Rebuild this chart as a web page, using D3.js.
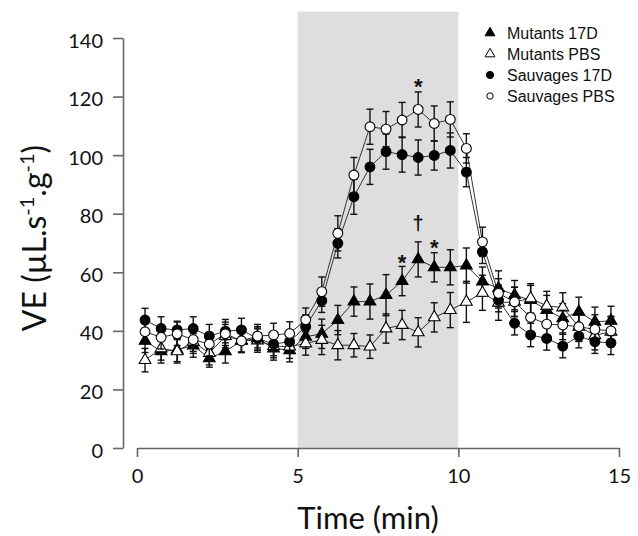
<!DOCTYPE html>
<html>
<head>
<meta charset="utf-8">
<script src="https://cdn.jsdelivr.net/npm/d3@7"></script>
<style>
  body { margin: 0; background: #fff; }
  svg { display: block; }
</style>
</head>
<body>
<svg id="theSvg"></svg>
<script>
// sampling times (min)
const times = [0.25, 0.75, 1.25, 1.75, 2.25, 2.75, 3.25, 3.75, 4.25, 4.75,
  5.25, 5.75, 6.25, 6.75, 7.25, 7.75, 8.25, 8.75, 9.25, 9.75,
  10.25, 10.75, 11.25, 11.75, 12.25, 12.75, 13.25, 13.75, 14.25, 14.75];

// mean VE per group
const mutants17D = [36.6, 33, 33.5, 35, 30.6, 33, 36.6, 37.4, 34, 33.4,
  38, 39, 43.7, 50, 50, 52.2, 57, 64.4, 61.7, 61.7,
  62.3, 56.8, 54.5, 52.2, 50.5, 47.1, 44.3, 46.5, 43.1, 43.4];
const mutantsPBS = [30, 34, 33, 36.3, 32.4, 38.2, 36.8, 36.7, 34.8, 34.6,
  35.7, 36.9, 35.1, 35.1, 34.6, 40.8, 42, 39.5, 44.6, 47.1,
  49.9, 53, 49.6, 49.9, 51.1, 48.5, 48, 41.4, 38.5, 39.7];
const sauvages17D = [43.7, 40.8, 40.3, 40.8, 38.2, 39.9, 40.3, 37.4, 35.5, 36.3,
  41.5, 50.3, 69.9, 85.8, 96, 101.2, 100.2, 99.2, 99.9, 101.6,
  94.2, 67, 50.5, 42.6, 38.6, 37.4, 34.8, 38.2, 36.3, 35.9];
const sauvagesPBS = [39.7, 37.8, 39, 37, 35.5, 39, 36.6, 38.2, 38.6, 39.1,
  43.8, 53.4, 73.3, 93.2, 109.7, 108.9, 112, 115.6, 110.8, 112.2,
  102.3, 70.4, 52.8, 49.9, 44.6, 42.3, 42, 41.4, 40.5, 40];

// standard errors
const seMutants17D = [4, 4, 4, 4, 3, 4, 4, 4, 4, 4, 4, 5, 5, 5, 6, 7, 5, 6, 5, 6, 6, 5, 6, 5, 5, 5, 5, 5, 5, 5];
const seMutantsPBS = [4, 4, 4, 4, 4, 4, 4, 4, 4, 4, 4, 5, 5, 4, 4, 5, 5, 5, 5, 6, 7, 6, 6, 5, 5, 5, 5, 5, 5, 5];
const seSauvages17D = [4, 4, 3, 4, 4, 4, 4, 4, 4, 4, 4, 4, 5, 6, 6, 6, 6, 6, 5, 6, 5, 4, 4, 4, 4, 4, 4, 4, 4, 4];
const seSauvagesPBS = [4, 4, 4, 4, 4, 4, 4, 4, 4, 4, 4, 5, 6, 6, 6, 6, 6, 6, 6, 6, 5, 5, 5, 5, 5, 5, 5, 5, 5, 5];

const seriesNames = ["Mutants 17D", "Mutants PBS", "Sauvages 17D", "Sauvages PBS"];
const yTicks = [0, 20, 40, 60, 80, 100, 120, 140];
const xTicks = [0, 5, 10, 15];
// stimulation window: time range and top of the shaded box (VE units)
const stimWindow = [5, 10];
const stimTop = 149;

// significance marks
const markTimes = [8.75, 8.25, 9.25, 8.75];
const markValues = [126.5, 66.5, 71.5, 77];
const markLabels = ["*", "*", "*", "\u2020"];

const width = 638, height = 536;
const svg = d3.select("#theSvg")
  .attr("width", width)
  .attr("height", height)
  .attr("viewBox", [0, 0, width, height]);

const x = d3.scaleLinear().domain([0, 15]).range([137, 619]);
const y = d3.scaleLinear().domain([0, 140]).range([448, 38]);

// shaded stimulation window
svg.append("rect")
  .attr("x", x(stimWindow[0]))
  .attr("y", y(stimTop))
  .attr("width", x(stimWindow[1]) - x(stimWindow[0]))
  .attr("height", y(0) - y(stimTop))
  .attr("fill", "#dedede");

// axes
const yAxis = svg.append("g")
  .attr("transform", "translate(123,0)")
  .call(d3.axisLeft(y).tickValues(yTicks).tickSize(10).tickSizeOuter(0).tickPadding(10));
const xAxis = svg.append("g")
  .attr("transform", "translate(0," + y(0) + ")")
  .call(d3.axisBottom(x).tickValues(xTicks).tickSize(9).tickSizeOuter(0).tickPadding(12));

[yAxis, xAxis].forEach(g => {
  g.select(".domain").attr("stroke", "#666").attr("stroke-width", 1.6);
  g.selectAll(".tick line").attr("stroke", "#666").attr("stroke-width", 1.6);
  g.selectAll(".tick text")
    .attr("fill", "#111")
    .style("font-family", "Lato, 'Open Sans', sans-serif")
    .style("font-size", "20px");
});
yAxis.selectAll(".tick text").attr("dy", "0.45em");

// axis titles
const yTitle = svg.append("text")
  .attr("transform", "translate(46,238) rotate(-90)")
  .attr("text-anchor", "middle")
  .style("font-family", "Lato, 'Open Sans', sans-serif")
  .style("font-size", "32px")
  .attr("fill", "#111");
yTitle.append("tspan").text("VE (\u00b5L.s");
yTitle.append("tspan").attr("baseline-shift", "super").style("font-size", "20px").text("-1");
yTitle.append("tspan").text(".g");
yTitle.append("tspan").attr("baseline-shift", "super").style("font-size", "20px").text("-1");
yTitle.append("tspan").text(")");

svg.append("text")
  .attr("x", 368)
  .attr("y", 529)
  .attr("text-anchor", "middle")
  .style("font-family", "Lato, 'Open Sans', sans-serif")
  .style("font-size", "31px")
  .attr("fill", "#111")
  .text("Time (min)");

// series table
const series = [
  {name: seriesNames[0], values: mutants17D, se: seMutants17D, shape: "triangle", filled: true},
  {name: seriesNames[1], values: mutantsPBS, se: seMutantsPBS, shape: "triangle", filled: false},
  {name: seriesNames[2], values: sauvages17D, se: seSauvages17D, shape: "circle", filled: true},
  {name: seriesNames[3], values: sauvagesPBS, se: seSauvagesPBS, shape: "circle", filled: false}
];

const line = d3.line()
  .x((d, i) => x(times[i]))
  .y(d => y(d));

const triangle = d3.symbol().type(d3.symbolTriangle).size(60);
const legendTriangle = d3.symbol().type(d3.symbolTriangle).size(42);

svg.append("g")
  .selectAll("path")
  .data(series)
  .join("path")
  .attr("d", d => line(d.values))
  .attr("fill", "none")
  .attr("stroke", "#333")
  .attr("stroke-width", 1);

const groups = svg.append("g")
  .selectAll("g")
  .data(series)
  .join("g");

groups.each(function(s) {
  const g = d3.select(this);
  const pts = s.values.map((v, i) => ({t: times[i], v: v, e: s.se[i]}));

  const bars = g.append("g").attr("stroke", "#111").attr("stroke-width", 1.4);
  bars.selectAll(".bar")
    .data(pts)
    .join("line")
    .attr("x1", d => x(d.t)).attr("x2", d => x(d.t))
    .attr("y1", d => y(d.v - d.e)).attr("y2", d => y(d.v + d.e));
  bars.selectAll(".capTop")
    .data(pts)
    .join("line")
    .attr("class", "capTop")
    .attr("x1", d => x(d.t) - 3.5).attr("x2", d => x(d.t) + 3.5)
    .attr("y1", d => y(d.v + d.e)).attr("y2", d => y(d.v + d.e));
  bars.selectAll(".capBot")
    .data(pts)
    .join("line")
    .attr("class", "capBot")
    .attr("x1", d => x(d.t) - 3.5).attr("x2", d => x(d.t) + 3.5)
    .attr("y1", d => y(d.v - d.e)).attr("y2", d => y(d.v - d.e));

  if (s.shape === "circle") {
    g.selectAll("circle")
      .data(pts)
      .join("circle")
      .attr("cx", d => x(d.t))
      .attr("cy", d => y(d.v))
      .attr("r", 4.9)
      .attr("fill", s.filled ? "#000" : "#fff")
      .attr("stroke", "#000")
      .attr("stroke-width", 1.1);
  } else {
    g.selectAll(".sym")
      .data(pts)
      .join("path")
      .attr("class", "sym")
      .attr("transform", d => "translate(" + x(d.t) + "," + y(d.v) + ")")
      .attr("d", triangle())
      .attr("fill", s.filled ? "#000" : "#fff")
      .attr("stroke", "#000")
      .attr("stroke-width", 1.1);
  }
});

// significance marks
svg.append("g")
  .selectAll("text")
  .data(markLabels)
  .join("text")
  .attr("x", (d, i) => x(markTimes[i]))
  .attr("y", (d, i) => y(markValues[i]))
  .attr("text-anchor", "middle")
  .attr("dy", (d) => d === "*" ? "0.75em" : "0.35em")
  .style("font-family", "'Liberation Sans', Arial, sans-serif")
  .style("font-size", (d) => d === "*" ? "22px" : "20px")
  .style("font-weight", "bold")
  .attr("fill", "#111")
  .text(d => d);

// legend
const legend = svg.append("g")
  .attr("transform", "translate(490,33)");
const rows = legend.selectAll("g")
  .data(series)
  .join("g")
  .attr("transform", (d, i) => "translate(0," + i * 21 + ")");
rows.filter(d => d.shape === "triangle")
  .append("path")
  .attr("d", legendTriangle())
  .attr("fill", d => d.filled ? "#000" : "#fff")
  .attr("stroke", "#000")
  .attr("stroke-width", 1);
rows.filter(d => d.shape === "circle")
  .append("circle")
  .attr("r", d => d.filled ? 3.6 : 3.2)
  .attr("fill", d => d.filled ? "#000" : "#fff")
  .attr("stroke", "#000")
  .attr("stroke-width", 1);
rows.append("text")
  .attr("x", 17)
  .attr("dy", "0.36em")
  .style("font-family", "'Liberation Sans', Arial, Helvetica, sans-serif")
  .style("font-size", "16px")
  .attr("fill", "#111")
  .text(d => d.name);
</script>
</body>
</html>
